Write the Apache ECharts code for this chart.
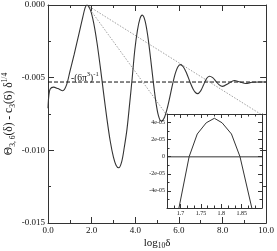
<!DOCTYPE html>
<html><head><meta charset="utf-8">
<script src="https://cdn.jsdelivr.net/npm/echarts@6/dist/echarts.min.js"></script>
<style>html,body{margin:0;padding:0;background:#fff}#c{width:277px;height:251px}</style>
</head><body><div id="c"></div>
<script>
// ---- main curve: log10(delta) vs value ----
const mainX = [0.00,0.04,0.10,0.25,0.45,0.68,0.85,1.00,1.20,1.40,1.60,1.70,1.78,1.95,2.10,2.25,2.40,2.55,2.70,2.85,3.00,3.12,3.24,3.38,3.50,3.62,3.74,3.86,3.98,4.10,4.22,4.32,4.45,4.58,4.70,4.82,4.94,5.06,5.19,5.32,5.45,5.58,5.71,5.84,5.95,6.06,6.20,6.35,6.50,6.65,6.76,6.86,7.00,7.13,7.27,7.40,7.55,7.70,7.85,8.00,8.27,8.54,8.80,9.07,9.35,9.70,10.0];
const mainY = [-0.0071,-0.0062,-0.00578,-0.00565,-0.00575,-0.0059,-0.0055,-0.0046,-0.0034,-0.0021,-0.0008,-0.0002,0.0000,-0.00037,-0.00128,-0.00263,-0.00429,-0.00608,-0.00782,-0.00934,-0.01047,-0.01102,-0.0112,-0.01077,-0.00977,-0.00856,-0.00684,-0.00502,-0.00308,-0.00174,-0.00092,-0.0007,-0.00109,-0.00219,-0.00363,-0.0052,-0.00661,-0.0076,-0.0080,-0.00779,-0.0072,-0.00637,-0.00546,-0.00469,-0.00426,-0.0041,-0.00425,-0.00468,-0.00526,-0.00578,-0.00602,-0.0061,-0.00591,-0.0055,-0.00506,-0.0049,-0.0050,-0.00525,-0.0055,-0.0056,-0.0054,-0.0052,-0.0053,-0.0054,-0.00532,-0.0053,-0.0053];
// asymptote -(6 pi^3)^-1
const asymX = [0, 10];
const asymY = [-0.0053, -0.0053];
// dotted zoom-indicator lines (peak to inset corners)
const guide1X = [1.78, 9.76], guide1Y = [0, -0.00752];
const guide2X = [1.78, 5.42], guide2Y = [0, -0.00752];
// inset curve
const insetX = [1.696,1.721,1.741,1.763,1.783,1.802,1.825,1.846,1.875];
const insetY = [-6.0e-5,0,2.66e-5,3.97e-5,4.5e-5,3.97e-5,2.66e-5,0,-6.0e-5];
const insetZeroX = [1.666667, 1.9], insetZeroY = [0, 0];
// inset tick values
const insetMajorX = [1.7, 1.75, 1.8, 1.85];
const insetMinorX = [1.683333,1.716667,1.733333,1.766667,1.783333,1.816667,1.833333,1.866667,1.883333];
const insetYLabels = [-4e-5,-2e-5,0,2e-5,4e-5];

const pair = (xs, ys) => xs.map((x, i) => [x, ys[i]]);
const FF = 'Liberation Serif, Times New Roman, serif';
const AX = '#333';
const line = {show: true, onZero: false, lineStyle: {color: AX, width: 1}};

function mainX_(pos, lab) {
  return {gridIndex: 0, type: 'value', min: 0, max: 10, interval: 2, position: pos,
    axisLine: line, axisTick: {inside: true, length: 6, lineStyle: {color: AX}},
    minorTick: {show: true, splitNumber: 2, length: 3, lineStyle: {color: AX}},
    splitLine: {show: false}, minorSplitLine: {show: false},
    axisLabel: {show: lab, fontFamily: FF, fontSize: 9, color: '#111', margin: 3, formatter: v => v.toFixed(1)}};
}
function mainY_(pos, lab) {
  return {gridIndex: 0, type: 'value', min: -0.015, max: 0, interval: 0.005, position: pos,
    axisLine: line, axisTick: {inside: true, length: 6, lineStyle: {color: AX}},
    minorTick: {show: true, splitNumber: 2, length: 3, lineStyle: {color: AX}},
    splitLine: {show: false}, minorSplitLine: {show: false},
    axisLabel: {show: lab, fontFamily: FF, fontSize: 9, color: '#111', margin: 3, formatter: v => v.toFixed(3)}};
}
function insX_(pos, major, lab) {
  return {gridIndex: 1, type: 'value', min: 1.666667, max: 1.9, position: pos, z: 4,
    axisLine: major ? line : {show: false, onZero: false},
    axisTick: {inside: true, length: major ? 4 : 2.5, customValues: major ? insetMajorX : insetMinorX, lineStyle: {color: AX}},
    splitLine: {show: false},
    axisLabel: {show: lab, customValues: insetMajorX, fontFamily: FF, fontSize: 6, color: '#111', margin: 2, formatter: v => String(+v.toFixed(2))}};
}
function insY_(pos, lab) {
  return {gridIndex: 1, type: 'value', min: -6e-5, max: 5e-5, interval: 2e-5, position: pos, z: 4,
    axisLine: line, axisTick: {inside: true, length: 4, lineStyle: {color: AX}},
    minorTick: {show: true, splitNumber: 2, length: 2.5, lineStyle: {color: AX}},
    splitLine: {show: false}, minorSplitLine: {show: false},
    axisLabel: {show: lab, customValues: insetYLabels, fontFamily: FF, fontSize: 6, color: '#111', margin: 2,
      formatter: v => { const n = Math.round(v * 1e5); return n === 0 ? '0' : (n < 0 ? '-' : '') + Math.abs(n) + 'e-05'; }}};
}

const chart = echarts.init(document.getElementById('c'), null, {renderer: 'canvas'});
chart.setOption({
  animation: false,
  backgroundColor: '#fff',
  grid: [
    {left: 48, right: 10, top: 5, bottom: 28},
    {left: 167, top: 114, width: 95, height: 94, show: true, backgroundColor: '#fff', borderWidth: 0}
  ],
  xAxis: [mainX_('bottom', true), mainX_('top', false),
          insX_('bottom', true, true), insX_('bottom', false, false),
          insX_('top', true, false), insX_('top', false, false)],
  yAxis: [mainY_('left', true), mainY_('right', false), insY_('left', true), insY_('right', false)],
  series: [
    {type: 'line', xAxisIndex: 0, yAxisIndex: 0, data: pair(guide1X, guide1Y), symbol: 'none',
     lineStyle: {color: '#888', width: 0.8, type: [1.5, 1.5]}},
    {type: 'line', xAxisIndex: 0, yAxisIndex: 0, data: pair(guide2X, guide2Y), symbol: 'none',
     lineStyle: {color: '#888', width: 0.8, type: [1.5, 1.5]}},
    {type: 'line', xAxisIndex: 0, yAxisIndex: 0, data: pair(asymX, asymY), symbol: 'none',
     lineStyle: {color: '#111', width: 1, type: [4, 2]}},
    {type: 'line', xAxisIndex: 0, yAxisIndex: 0, data: pair(mainX, mainY), symbol: 'none', smooth: 0.3,
     lineStyle: {color: '#333', width: 1.1}},
    {type: 'line', xAxisIndex: 2, yAxisIndex: 2, data: pair(insetZeroX, insetZeroY), symbol: 'none',
     lineStyle: {color: '#777', width: 1.3}},
    {type: 'line', xAxisIndex: 2, yAxisIndex: 2, data: pair(insetX, insetY), symbol: 'none',
     lineStyle: {color: '#333', width: 1}}
  ],
  graphic: [
    {type: 'text', x: 9, y: 114, rotation: Math.PI / 2, z: 10,
     style: {text: '{n|Θ}{s|3, 6}{n|(δ) - c}{s|3}{n|(6) δ}{p|1/4}', align: 'center', verticalAlign: 'middle',
       rich: {n: {fontFamily: FF, fontSize: 11.5, lineHeight: 16, fill: '#111'},
              s: {fontFamily: FF, fontSize: 7.5, lineHeight: 9, verticalAlign: 'bottom', fill: '#111'},
              p: {fontFamily: FF, fontSize: 7.5, lineHeight: 9, verticalAlign: 'top', fill: '#111'}}}},
    {type: 'text', x: 157, y: 243, z: 10,
     style: {text: '{n|log}{s|10}{n|δ}', align: 'center', verticalAlign: 'middle',
       rich: {n: {fontFamily: FF, fontSize: 11, lineHeight: 15, fill: '#111'},
              s: {fontFamily: FF, fontSize: 7.5, lineHeight: 8, verticalAlign: 'bottom', fill: '#111'}}}},
    {type: 'text', x: 71, y: 78, z: 10,
     style: {text: '{n|-(6π}{p|3}{n|)}{p|-1}', align: 'left', verticalAlign: 'middle',
       rich: {n: {fontFamily: FF, fontSize: 9.5, lineHeight: 14, fill: '#111'},
              p: {fontFamily: FF, fontSize: 6.5, lineHeight: 8, verticalAlign: 'top', fill: '#111'}}}}
  ]
});
</script></body></html>
